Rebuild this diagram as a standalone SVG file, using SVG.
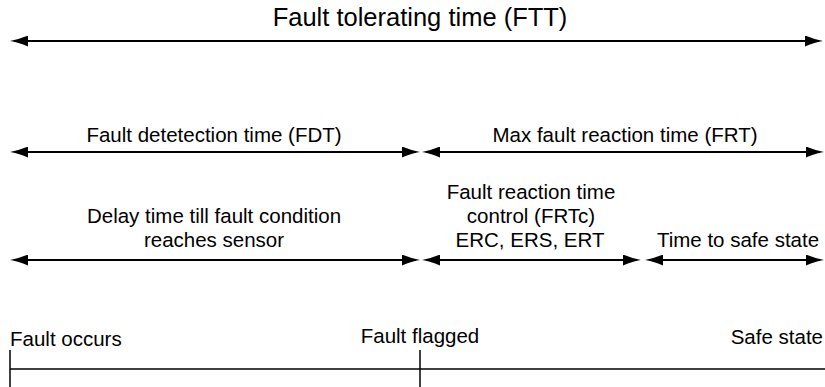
<svg xmlns="http://www.w3.org/2000/svg" width="825" height="387" viewBox="0 0 825 387">
  <style>
    text { font-family: "Liberation Sans", Arial, sans-serif; fill: #000; }
    .lbl { font-size: 20.5px; text-anchor: middle; }
    .title { font-size: 25.5px; text-anchor: middle; }
    .arr { stroke: #000; stroke-width: 2; fill: none; marker-start: url(#ah); marker-end: url(#ah); }
    .tl { stroke: #000; stroke-width: 1.5; fill: none; }
  </style>
  <defs>
    <marker id="ah" viewBox="0 0 18 11" refX="14" refY="5.5" markerWidth="18" markerHeight="11" markerUnits="userSpaceOnUse" orient="auto-start-reverse">
      <path d="M0,0 Q10,4.2 18,5.5 Q10,6.8 0,11 Z" fill="#000"/>
    </marker>
  </defs>
  <rect width="825" height="387" fill="#fff"/>

  <g id="ftt">
    <text class="title" x="420" y="26">Fault tolerating time (FTT)</text>
  </g>
  <g id="fdt">
    <text class="lbl" x="214" y="142">Fault detetection time (FDT)</text>
  </g>
  <g id="frt">
    <text class="lbl" x="625" y="142">Max fault reaction time (FRT)</text>
  </g>
  <g id="delay">
    <text class="lbl" x="214" y="223">Delay time till fault condition</text>
    <text class="lbl" x="214" y="247">reaches sensor</text>
  </g>
  <g id="frtc">
    <text class="lbl" x="531" y="199">Fault reaction time</text>
    <text class="lbl" x="531" y="223">control (FRTc)</text>
    <text class="lbl" x="530" y="247">ERC, ERS, ERT</text>
  </g>
  <g id="tss">
    <text class="lbl" x="738" y="247">Time to safe state</text>
  </g>
  <g id="fault-occurs">
    <text x="10" y="346" style="font-size:20.5px">Fault occurs</text>
  </g>
  <g id="fault-flagged">
    <text class="lbl" x="420" y="343">Fault flagged</text>
  </g>
  <g id="safe-state">
    <text x="823" y="344" style="font-size:20.5px; text-anchor:end">Safe state</text>
  </g>

  <g id="connectors">
    <line class="arr" x1="14" y1="41" x2="819" y2="41"/>
    <line class="arr" x1="14" y1="152" x2="416" y2="152"/>
    <line class="arr" x1="426" y1="152" x2="820" y2="152"/>
    <line class="arr" x1="14" y1="260" x2="416" y2="260"/>
    <line class="arr" x1="426" y1="260" x2="637" y2="260"/>
    <line class="arr" x1="649" y1="260" x2="820" y2="260"/>
    <line class="tl" x1="10" y1="369" x2="825" y2="369"/>
    <line class="tl" x1="10" y1="350" x2="10" y2="387"/>
    <line class="tl" x1="420" y1="350" x2="420" y2="387"/>
  </g>
</svg>
